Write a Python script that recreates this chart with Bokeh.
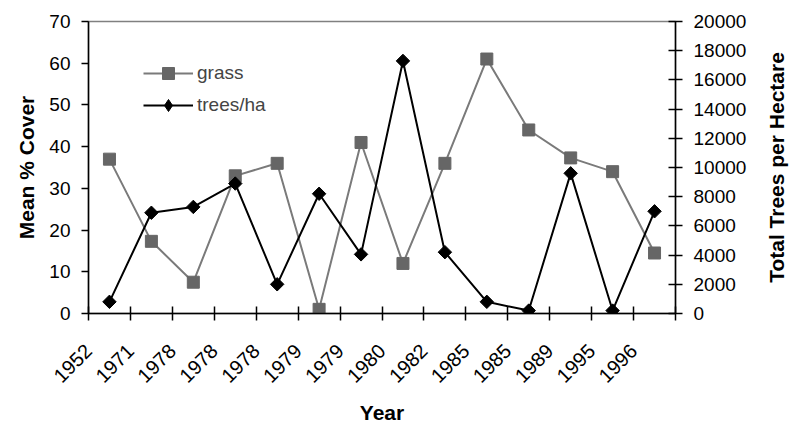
import math
from bokeh.plotting import figure
from bokeh.layouts import row
from bokeh.models import (Range1d, LinearAxis, FixedTicker, SingleIntervalTicker,
                          Legend, LegendItem)
from bokeh.core.properties import value
from bokeh.embed import file_html
from bokeh.resources import INLINE

years = ["1952", "1971", "1978", "1978", "1978", "1979", "1979", "1980",
         "1982", "1985", "1985", "1989", "1995", "1996"]
grass = [37, 17.3, 7.5, 33, 36, 1, 41, 12, 36, 61, 44, 37.3, 34, 14.5]
trees = [800, 6900, 7300, 8900, 2000, 8200, 4050, 17300, 4200, 800, 200, 9600, 200, 7000]
right_title = "Total Trees per Hectare"

FONT = "Liberation Sans"
n = len(years)
STEP = 10
x = [STEP * (i + 1) for i in range(n)]          # category centres
label_pos = [v - 5 for v in x]                     # rotated labels sit a bit left
bounds = [STEP * i + STEP // 2 for i in range(n + 1)]  # category boundaries

W_MAIN = 762
p = figure(width=W_MAIN, height=427, output_backend="svg", toolbar_location=None,
           x_range=Range1d(bounds[0], bounds[-1]), y_range=Range1d(0, 70),
           min_border_left=88, min_border_right=W_MAIN - 675, min_border_top=21,
           min_border_bottom=114)
p.xgrid.visible = False
p.ygrid.visible = False
p.outline_line_color = "#808080"
p.outline_line_width = 1.5
p.background_fill_color = "white"
p.border_fill_color = "white"

p.extra_y_ranges = {"trees": Range1d(0, 20000)}

# x axis
xa = p.xaxis[0]
xa.ticker = FixedTicker(ticks=label_pos, minor_ticks=bounds)
xa.major_label_overrides = {label_pos[i]: years[i] for i in range(n)}
xa.major_tick_in = 0
xa.major_tick_out = 0
xa.minor_tick_in = 7
xa.minor_tick_out = 7
xa.major_label_orientation = math.pi / 4
xa.axis_label = "Year"

# left axis
ya = p.yaxis[0]
ya.ticker = SingleIntervalTicker(interval=10, num_minor_ticks=0)
ya.major_tick_in = 0
ya.major_tick_out = 7
ya.axis_label = "Mean % Cover"

# right axis
ra = LinearAxis(y_range_name="trees",
                ticker=SingleIntervalTicker(interval=2000, num_minor_ticks=0))
ra.major_tick_in = 7
ra.major_tick_out = 7
p.add_layout(ra, "right")

for ax in [xa, ya, ra]:
    ax.axis_line_color = "black"
    ax.axis_line_width = 1.5
    ax.major_tick_line_color = "black"
    ax.major_tick_line_width = 1.5
    ax.minor_tick_line_color = "black" if ax is xa else None
    ax.minor_tick_line_width = 1.5
    ax.major_label_text_font = FONT
    ax.major_label_text_font_size = "19px"
    ax.major_label_text_color = "black"
    ax.axis_label_text_font = FONT
    ax.axis_label_text_font_size = "21px"
    ax.axis_label_text_font_style = "bold"
    ax.axis_label_text_color = "black"

xa.major_label_text_font_size = "20px"
xa.major_label_standoff = 27
xa.axis_label_standoff = 9
ya.major_label_standoff = 11
ya.axis_label_standoff = 8
ra.major_label_standoff = 11

gl = p.line(x, grass, line_color="#7a7a7a", line_width=2)
gs = p.scatter(x, grass, marker="square", size=12, fill_color="#666666",
               line_color="#666666")
tl = p.line(x, trees, y_range_name="trees", line_color="black", line_width=2)
ts = p.scatter(x, trees, y_range_name="trees", marker="square", angle=math.pi / 4,
               size=9.5, fill_color="black", line_color="black")
# zero-size diamonds: only give the legend its diamond swatch
tleg = p.scatter(x, trees, y_range_name="trees", marker="diamond", size=0,
                 fill_color="black", line_color="black")

legend = Legend(items=[LegendItem(label="grass", renderers=[gl, gs]),
                       LegendItem(label="trees/ha", renderers=[tl, tleg])],
                location=(50, 188))
legend.border_line_alpha = 0
legend.background_fill_alpha = 0
legend.label_text_font = FONT
legend.label_text_font_size = "19px"
legend.glyph_width = 50
legend.label_height = 30
legend.glyph_height = 30
legend.spacing = 2
legend.padding = 5
legend.label_standoff = 4
p.add_layout(legend, "center")

# narrow strip holding the right-hand axis title, reading bottom to top
p2 = figure(width=789 - W_MAIN, height=427, output_backend="svg",
            toolbar_location=None, x_range=Range1d(0, 1), y_range=Range1d(0, 1),
            min_border_left=0, min_border_right=0, min_border_top=21,
            min_border_bottom=114)
p2.axis.visible = False
p2.grid.visible = False
p2.outline_line_color = None
p2.background_fill_color = "white"
p2.border_fill_color = "white"
p2.text(x=[0.5], y=[0.5], text=[right_title], angle=math.pi / 2,
        text_align="center", text_baseline="middle",
        text_font=value(FONT), text_font_size="21px", text_font_style="bold",
        text_color="black")

layout = row(p, p2, spacing=0)
open("out.html", "w").write(file_html(layout, INLINE))
